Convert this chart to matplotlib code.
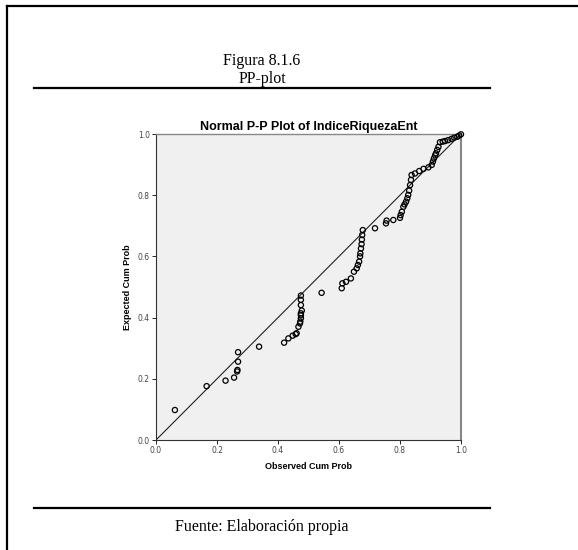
import matplotlib
matplotlib.use("Agg")
import matplotlib.pyplot as plt
from matplotlib.lines import Line2D

# observed vs expected cumulative probabilities
obs = [0.062, 0.166, 0.228, 0.256, 0.267, 0.266, 0.269, 0.269, 0.338,
       0.420, 0.434, 0.448, 0.458, 0.461, 0.467, 0.472, 0.473, 0.475, 0.475,
       0.475, 0.478, 0.475, 0.475, 0.475,
       0.543, 0.609, 0.611, 0.623, 0.639, 0.649, 0.658, 0.662, 0.666, 0.669,
       0.670, 0.672, 0.674, 0.675, 0.676, 0.678,
       0.718, 0.754, 0.756, 0.778, 0.800, 0.802, 0.806, 0.811, 0.815, 0.820,
       0.824, 0.827, 0.830, 0.833, 0.836, 0.838, 0.849, 0.863, 0.877, 0.893,
       0.904, 0.908, 0.911, 0.915, 0.918, 0.922, 0.926, 0.931, 0.940, 0.948,
       0.958, 0.969, 0.978, 0.988, 0.994, 1.000]
exp = [0.098, 0.176, 0.194, 0.204, 0.229, 0.224, 0.256, 0.287, 0.305,
       0.318, 0.332, 0.341, 0.346, 0.349, 0.370, 0.381, 0.387, 0.398, 0.408,
       0.414, 0.423, 0.441, 0.458, 0.472,
       0.481, 0.496, 0.512, 0.517, 0.528, 0.550, 0.561, 0.572, 0.583, 0.600,
       0.610, 0.626, 0.640, 0.655, 0.670, 0.686,
       0.692, 0.708, 0.717, 0.719, 0.726, 0.735, 0.746, 0.762, 0.770, 0.779,
       0.790, 0.801, 0.815, 0.833, 0.850, 0.866, 0.871, 0.879, 0.886, 0.891,
       0.899, 0.910, 0.920, 0.930, 0.937, 0.948, 0.958, 0.973, 0.975, 0.977,
       0.980, 0.984, 0.988, 0.991, 0.995, 0.999]

ticks = [0.0, 0.2, 0.4, 0.6, 0.8, 1.0]
tick_labels = ["0.0", "0.2", "0.4", "0.6", "0.8", "1.0"]


def main():
    fig = plt.figure(figsize=(5.78, 5.5), dpi=100)
    W, H = 578.0, 550.0

    # frame and rules of the page
    fig.add_artist(Line2D([7 / W, 7 / W], [0, 1 - 6 / H], color="black", lw=1.6))
    fig.add_artist(Line2D([7 / W, 1], [1 - 6 / H, 1 - 6 / H], color="black", lw=1.6))
    fig.add_artist(Line2D([34 / W, 490 / W], [1 - 88 / H, 1 - 88 / H], color="black", lw=1.6))
    fig.add_artist(Line2D([34 / W, 490 / W], [1 - 508 / H, 1 - 508 / H], color="black", lw=1.6))

    serif = "Liberation Serif"
    fig.text(262 / W, 1 - 61 / H, "Figura 8.1.6", ha="center", va="center",
             family=serif, fontsize=11.5)
    fig.text(262 / W, 1 - 79 / H, "PP-plot", ha="center", va="center",
             family=serif, fontsize=11.5)
    fig.text(262 / W, 1 - 527 / H, "Fuente: Elaboración propia", ha="center",
             va="center", family=serif, fontsize=11.5)

    ax = fig.add_axes([156 / W, 1 - 440 / H, 305 / W, 306 / H])
    ax.set_facecolor("#f0f0f0")
    ax.plot([0, 1], [0, 1], color="#222222", lw=0.8, zorder=2)
    ax.scatter(obs, exp, s=14, facecolors="none", edgecolors="black",
               linewidths=0.9, zorder=3, clip_on=False)

    ax.set_xlim(0, 1)
    ax.set_ylim(0, 1)
    ax.set_xticks(ticks)
    ax.set_xticklabels(tick_labels)
    ax.set_yticks(ticks)
    ax.set_yticklabels(tick_labels)
    ax.tick_params(labelsize=5.5, labelcolor="#444444", length=3, width=0.6,
                   pad=1.5)

    for s in ["left", "bottom"]:
        ax.spines[s].set_color("#333333")
        ax.spines[s].set_linewidth(0.8)
    ax.spines["top"].set_color("#888888")
    ax.spines["top"].set_linewidth(1.0)
    ax.spines["right"].set_color("#888888")
    ax.spines["right"].set_linewidth(1.5)

    ax.set_title("Normal P-P Plot of IndiceRiquezaEnt", fontsize=9,
                 fontweight="bold", family="Liberation Sans", pad=3)
    ax.set_xlabel("Observed Cum Prob", fontsize=6.5, fontweight="bold",
                  family="Liberation Sans", labelpad=5)
    ax.set_ylabel("Expected Cum Prob", fontsize=6.5, fontweight="bold",
                  family="Liberation Sans", labelpad=4)

    fig.savefig("out.png", dpi=100)


if __name__ == "__main__":
    main()
